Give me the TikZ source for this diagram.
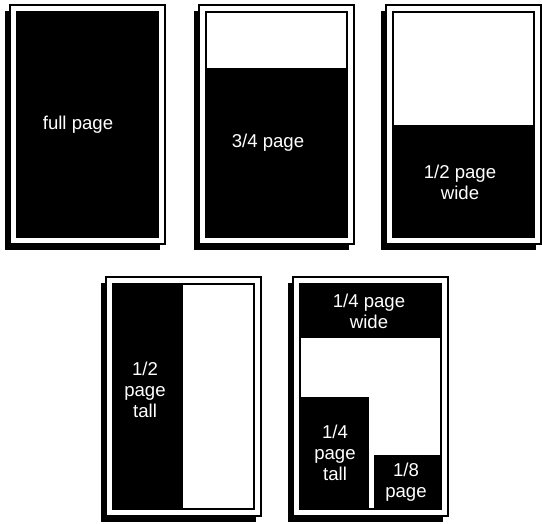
\documentclass[tikz,border=0pt]{standalone}
\usepackage{fontspec}
\setmainfont{Liberation Sans}
\usepackage{tikz}
\usetikzlibrary{positioning}

\begin{document}
\begin{tikzpicture}[x=0.5pt, y=-0.5pt,
  pageshadow/.style={fill=black},
  pageframe/.style={draw=black, fill=white, line width=0.8pt},
  pagebody/.style={draw=black, line width=0.6pt},
  adblock/.style={fill=black},
  adlabel/.style={text=white, align=center, inner sep=0pt,
    font=\fontsize{9.3}{10.5}\selectfont}]
  \useasboundingbox (0,0) rectangle (542,524);

  % page frames with shadow
  \foreach \px/\py in {10/5, 199/5, 386/5, 106/277, 293/277} {
    \fill[pageshadow] (\px-5,\py+6) rectangle ++(155,239);
    \draw[pageframe] (\px,\py) rectangle ++(155,239);
  }

  % full page
  \fill[adblock] (17,12) rectangle (158,237);
  \draw[pagebody] (17,12) rectangle (158,237);
  \node[adlabel] (full) at (78,125) {full page};

  % 3/4 page
  \fill[adblock] (206,68) rectangle (347,237);
  \draw[pagebody] (206,12) rectangle (347,237);
  \node[adlabel] (threeq) at (268,143) {3/4 page};

  % 1/2 page wide
  \fill[adblock] (393,125) rectangle (534,237);
  \draw[pagebody] (393,12) rectangle (534,237);
  \node[adlabel] (halfwide) at (460,182) {1/2 page\\wide};

  % 1/2 page tall
  \fill[adblock] (113,284) rectangle (183,509);
  \draw[pagebody] (113,284) rectangle (254,509);
  \node[adlabel] (halftall) at (145,390) {1/2\\page\\tall};

  % quarter and eighth
  \fill[adblock] (300,284) rectangle (441,338);
  \fill[adblock] (300,397) rectangle (369,509);
  \fill[adblock] (374,455) rectangle (441,509);
  \draw[pagebody] (300,284) rectangle (441,509);
  \node[adlabel] (qwide) at (369,311) {1/4 page\\wide};
  \node[adlabel] (qtall) at (335,453) {1/4\\page\\tall};
  \node[adlabel] (eighth) at (406,482) {1/8\\page};
\end{tikzpicture}
\end{document}
